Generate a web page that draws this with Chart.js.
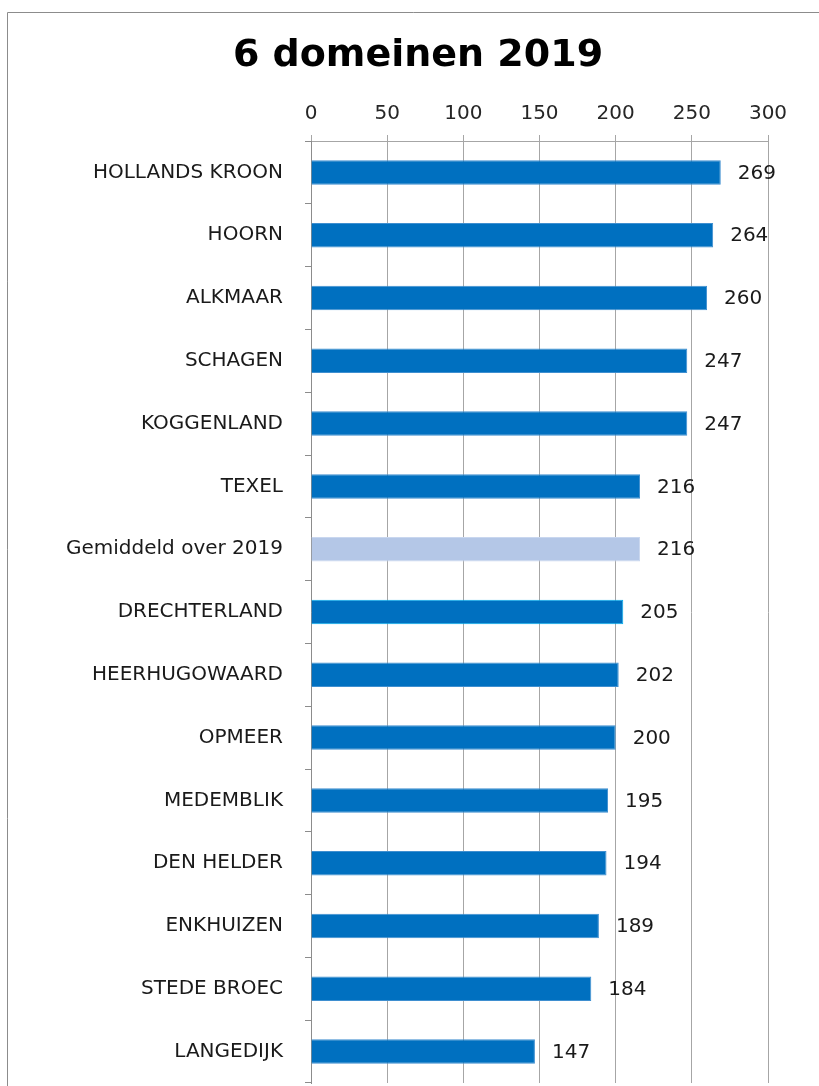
<!DOCTYPE html>
<html>
<head>
<meta charset="utf-8">
<script src="https://cdn.jsdelivr.net/npm/chart.js@4"></script>
<style>
  html, body { margin: 0; padding: 0; background: #fff; }
  #wrap { width: 819px; height: 1086px; position: relative; }
</style>
</head>
<body>
<div id="wrap"><canvas id="domeinChart" width="819" height="1086"></canvas></div>
<script>
// ── Data ──
const gemeenten = ['HOLLANDS KROON', 'HOORN', 'ALKMAAR', 'SCHAGEN', 'KOGGENLAND', 'TEXEL',
    'Gemiddeld over 2019', 'DRECHTERLAND', 'HEERHUGOWAARD', 'OPMEER', 'MEDEMBLIK',
    'DEN HELDER', 'ENKHUIZEN', 'STEDE BROEC', 'LANGEDIJK'];
const scores = [269, 264, 260, 247, 247, 216, 216, 205, 202, 200, 195, 194, 189, 184, 147];
const xTicks = [0, 50, 100, 150, 200, 250, 300];
const titel = '6 domeinen 2019';

const BLUE = '#0070C0';
const AVG = '#B4C7E7';
const FONT = "'DejaVu Sans', Verdana, sans-serif";

const barColors = gemeenten.map(g => g.startsWith('Gemiddeld') ? AVG : BLUE);
const barBorders = gemeenten.map(g => g === 'DRECHTERLAND' ? '#00B0F0' : (g.startsWith('Gemiddeld') ? '#c9d7ef' : '#3f8fd0'));

// frame + title, like the spreadsheet chart box
const framePlugin = {
    id: 'frame',
    beforeDraw(chart) {
        const ctx = chart.ctx;
        ctx.save();
        ctx.fillStyle = '#fff';
        ctx.fillRect(0, 0, chart.width, chart.height);
        ctx.strokeStyle = '#8c8c8c';
        ctx.lineWidth = 1;
        ctx.beginPath();
        ctx.moveTo(7.5, chart.height + 5);
        ctx.lineTo(7.5, 12.5);
        ctx.lineTo(chart.width + 5, 12.5);
        ctx.stroke();

        ctx.font = 'bold 38px ' + FONT;
        ctx.fillStyle = '#000';
        ctx.textAlign = 'center';
        ctx.textBaseline = 'middle';
        ctx.fillText(titel, 418, 56);
        ctx.restore();
    }
};

// value labels at the end of each bar
const valueLabels = {
    id: 'valueLabels',
    afterDatasetsDraw(chart) {
        const ctx = chart.ctx;
        const meta = chart.getDatasetMeta(0);
        ctx.save();
        ctx.font = '20px ' + FONT;
        ctx.fillStyle = '#1a1a1a';
        ctx.textAlign = 'left';
        ctx.textBaseline = 'middle';
        meta.data.forEach((bar, i) => {
            ctx.fillText(String(scores[i]), bar.x + 17, bar.y + 1);
        });
        ctx.restore();
    }
};

const ctx = document.getElementById('domeinChart').getContext('2d');
new Chart(ctx, {
    type: 'bar',
    data: {
        labels: gemeenten,
        datasets: [{
            data: scores,
            backgroundColor: barColors,
            borderColor: barBorders,
            borderWidth: 1,
            categoryPercentage: 1,
            barPercentage: 0.39
        }]
    },
    options: {
        indexAxis: 'y',
        responsive: false,
        animation: false,
        layout: { padding: { left: 0, right: 51, top: 76, bottom: 3 } },
        plugins: {
            legend: { display: false },
            tooltip: { enabled: false },
            title: { display: false }
        },
        scales: {
            x: {
                position: 'top',
                min: 0,
                max: 300,
                afterBuildTicks: s => { s.ticks = xTicks.map(v => ({ value: v })); },
                afterFit: s => { s.height = 141 - 76; s.paddingLeft = 0; s.paddingRight = 0; },
                grid: { color: '#a6a6a6', lineWidth: 1, tickLength: 6 },
                border: { color: '#a6a6a6' },
                ticks: { color: '#262626', font: { family: FONT, size: 20 }, padding: 9 }
            },
            y: {
                afterFit: s => { s.width = 311; s.paddingTop = 0; s.paddingBottom = 0; },
                grid: { drawOnChartArea: false, color: '#8c8c8c', tickLength: 6 },
                border: { color: '#8c8c8c' },
                ticks: { color: '#1a1a1a', font: { family: FONT, size: 20 }, padding: 22, autoSkip: false }
            }
        }
    },
    plugins: [framePlugin, valueLabels]
});
</script>
</body>
</html>
